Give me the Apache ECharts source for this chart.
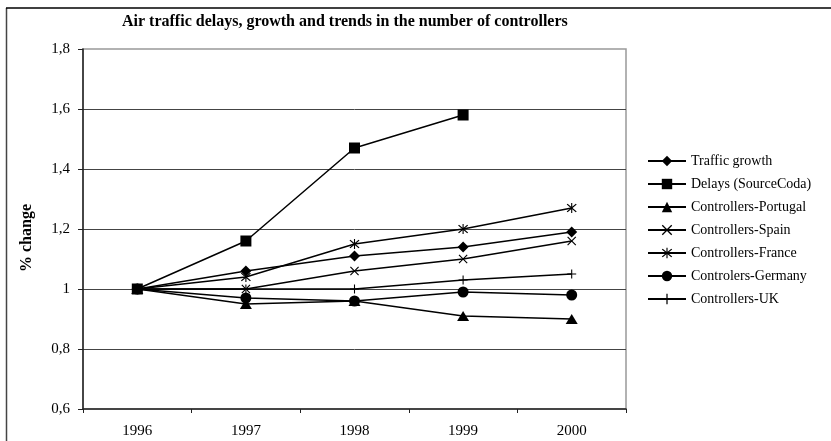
<!DOCTYPE html>
<html>
<head>
<meta charset="utf-8">
<script src="https://cdn.jsdelivr.net/npm/echarts@6/dist/echarts.min.js"></script>
<style>
html,body{margin:0;padding:0;background:#fff;}
#chart{width:831px;height:441px;}
</style>
</head>
<body>
<div id="chart"></div>
<script>
var years = ['1996', '1997', '1998', '1999', '2000'];
var trafficGrowth = [1, 1.06, 1.11, 1.14, 1.19];
var delays = [1, 1.16, 1.47, 1.58, null];
var ctrlPortugal = [1, 0.95, 0.96, 0.91, 0.90];
var ctrlSpain = [1, 1.00, 1.06, 1.10, 1.16];
var ctrlFrance = [1, 1.04, 1.15, 1.20, 1.27];
var ctrlGermany = [1, 0.97, 0.96, 0.99, 0.98];
var ctrlUK = [1, 1.00, 1.00, 1.03, 1.05];
var seriesNames = ['Traffic growth', 'Delays (SourceCoda)', 'Controllers-Portugal', 'Controllers-Spain', 'Controllers-France', 'Controlers-Germany', 'Controllers-UK'];

var SYM_X = 'path://M1.8,0L10,8.2L18.2,0L20,1.8L11.8,10L20,18.2L18.2,20L10,11.8L1.8,20L0,18.2L8.2,10L0,1.8Z';
var SYM_AST = 'path://M1.8,0L10,8.2L18.2,0L20,1.8L11.8,10L20,18.2L18.2,20L10,11.8L1.8,20L0,18.2L8.2,10L0,1.8Z M8.9,-2H11.1V22H8.9Z';
var SYM_PLUS = 'path://M8.8,0H11.2V8.8H20V11.2H11.2V20H8.8V11.2H0V8.8H8.8Z';

var FONT = "'Liberation Serif', 'Times New Roman', serif";

function mk(name, data, symbol, size) {
  return {
    name: name,
    type: 'line',
    data: data,
    symbol: symbol,
    symbolSize: size,
    showAllSymbol: true,
    connectNulls: false,
    lineStyle: { color: '#000', width: 1.5 },
    itemStyle: { color: '#000', borderWidth: 0 },
    emphasis: { disabled: true },
    animation: false
  };
}

var chart = echarts.init(document.getElementById('chart'), null, { renderer: 'canvas' });
chart.setOption({
  backgroundColor: '#fff',
  animation: false,
  title: {
    text: 'Air traffic delays, growth and trends in the number of controllers',
    left: 122,
    top: 14,
    padding: 0,
    textStyle: { fontFamily: FONT, fontWeight: 'bold', fontSize: 16, color: '#000' }
  },
  graphic: [
    { type: 'line', shape: { x1: 6.5, y1: 8, x2: 6.5, y2: 441 }, style: { stroke: '#444', lineWidth: 1.5 } },
    { type: 'line', shape: { x1: 6, y1: 8, x2: 831, y2: 8 }, style: { stroke: '#000', lineWidth: 1.5 } }
  ],
  legend: {
    orient: 'vertical',
    left: 647,
    top: 154,
    itemWidth: 38,
    itemHeight: 13,
    itemGap: 9,
    padding: 0,
    textStyle: { fontFamily: FONT, fontSize: 14, color: '#000', lineHeight: 14 },
    data: seriesNames
  },
  grid: {
    left: 83,
    right: 205,
    top: 49,
    bottom: 32,
    show: true,
    borderColor: '#999',
    borderWidth: 1.5,
    backgroundColor: '#fff'
  },
  xAxis: {
    type: 'category',
    data: years,
    boundaryGap: true,
    axisLine: { lineStyle: { color: '#222', width: 1.5 } },
    axisTick: { show: true, length: 4, inside: false, lineStyle: { color: '#222' } },
    axisLabel: { fontFamily: FONT, fontSize: 15, color: '#000', margin: 15 },
    splitLine: { show: false }
  },
  yAxis: {
    type: 'value',
    min: 0.6,
    max: 1.8,
    interval: 0.2,
    name: '% change',
    nameLocation: 'middle',
    nameGap: 48,
    nameTextStyle: { fontFamily: FONT, fontWeight: 'bold', fontSize: 16, color: '#000', padding: [0, 0, 0, -18] },
    axisLine: { show: true, lineStyle: { color: '#222', width: 1.5 } },
    axisTick: { show: true, length: 5, inside: false, lineStyle: { color: '#222' } },
    axisLabel: {
      fontFamily: FONT, fontSize: 15, color: '#000', margin: 13,
      formatter: function (v) { return String(Math.round(v * 10) / 10).replace('.', ','); }
    },
    splitLine: { show: true, showMaxLine: false, showMinLine: false, lineStyle: { color: '#444', width: 1 } }
  },
  series: [
    mk(seriesNames[0], trafficGrowth, 'diamond', 11),
    mk(seriesNames[1], delays, 'rect', 11),
    mk(seriesNames[2], ctrlPortugal, 'triangle', [12, 10]),
    mk(seriesNames[3], ctrlSpain, SYM_X, 9),
    mk(seriesNames[4], ctrlFrance, SYM_AST, 10),
    mk(seriesNames[5], ctrlGermany, 'circle', 11),
    mk(seriesNames[6], ctrlUK, SYM_PLUS, 9)
  ]
});
</script>
</body>
</html>
